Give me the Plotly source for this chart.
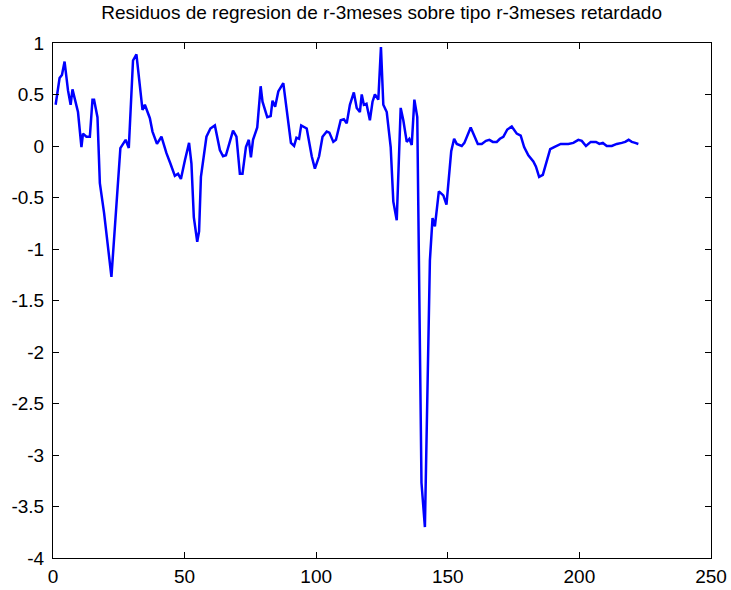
import plotly.graph_objects as go

title_text = "Residuos de regresion de r-3meses sobre tipo r-3meses retardado"

obs_index = [1, 2.5, 3.4, 4.4, 5.7, 6.7, 7.4, 9.5, 10.8, 11.4, 12.7, 14, 15, 15.6, 16.9, 17.8, 19.4, 22.2,
             25.6, 27.6, 28.8, 30.4, 31.7, 34, 34.9, 36.8, 37.8, 39.5, 41.2, 43.1, 44.6, 46.3, 47.5, 48.6,
             50.1, 51.7, 52.6, 53.5, 54.8, 55.5, 56.2, 58.3, 59.8, 61.5, 63.4, 64.6, 65.7, 68.4, 69.7,
             71, 72, 73.3, 74.4, 75.2, 76, 77.6, 78.9, 79.6, 81.4, 82.7, 83.4, 84.4, 85.6, 87.5, 90.4,
             91.6, 92.5, 93.5, 94.3, 96.4, 98.3, 99.5, 101.1, 102.4, 104, 105, 106.5, 107.5, 109.3,
             110.5, 111.6, 112.8, 114.3, 115.4, 116.6, 117.3, 118.1, 119.1, 120.4, 121.4, 122.3, 123.6,
             124.6, 125.5, 126.8, 128.3, 129.3, 130.6, 132.1, 133.1, 134.4, 135.4, 136.3, 137.3, 138.4,
             140, 141.3, 143.2, 144.2, 145.1, 146.6, 148.3, 149.5, 151.3, 152.4, 153.4, 155.3, 156.3,
             158.7, 159.7, 161.4, 162.9, 164.5, 165.8, 167.1, 168.6, 169.8, 171.1, 172.6, 174.3, 176.2,
             177.7, 179, 180.6, 182.5, 183.5, 184.7, 186.1, 187.6, 188.9, 190.4, 191.4, 192.9, 195.8,
             197.7, 199.6, 200.9, 202.5, 204.3, 206.3, 207.6, 208.9, 210.4, 212.3, 214.2, 216.1, 217.4,
             218.7, 219.9, 221.2, 222.4]

residuals = [0.40, 0.66, 0.69, 0.82, 0.54, 0.40, 0.55, 0.33, -0.01, 0.12, 0.09, 0.09, 0.45, 0.45, 0.28,
             -0.36, -0.65, -1.27, -0.02, 0.06, -0.02, 0.83, 0.89, 0.35, 0.40, 0.27, 0.14, 0.02, 0.09,
             -0.07, -0.17, -0.29, -0.27, -0.32, -0.14, 0.03, -0.17, -0.69, -0.93, -0.83, -0.30, 0.09,
             0.17, 0.20, -0.04, -0.10, -0.09, 0.15, 0.09, -0.27, -0.27, -0.01, 0.06, -0.11, 0.06, 0.18,
             0.58, 0.43, 0.28, 0.29, 0.44, 0.38, 0.53, 0.61, 0.03, 0.00, 0.08, 0.07, 0.20, 0.17, -0.10,
             -0.22, -0.10, 0.09, 0.14, 0.13, 0.04, 0.06, 0.25, 0.26, 0.22, 0.40, 0.52, 0.37, 0.33, 0.50,
             0.40, 0.41, 0.25, 0.43, 0.50, 0.45, 0.96, 0.40, 0.33, -0.01, -0.54, -0.72, 0.37, 0.25, 0.04,
             0.07, 0.01, 0.45, 0.28, -3.27, -3.70, -1.11, -0.70, -0.78, -0.44, -0.48, -0.57, -0.05, 0.07,
             0.02, 0.00, 0.03, 0.18, 0.12, 0.02, 0.02, 0.05, 0.06, 0.04, 0.04, 0.07, 0.09, 0.16, 0.19,
             0.12, 0.10, -0.01, -0.09, -0.15, -0.20, -0.30, -0.28, -0.15, -0.03, -0.01, 0.00, 0.02, 0.02,
             0.03, 0.06, 0.05, 0.00, 0.04, 0.04, 0.02, 0.03, 0.00, 0.00, 0.02, 0.03, 0.04, 0.06, 0.04,
             0.03, 0.02]

x_ticks = [0, 50, 100, 150, 200, 250]
y_ticks = [-4, -3.5, -3, -2.5, -2, -1.5, -1, -0.5, 0, 0.5, 1]
y_tick_labels = ["-4", "-3.5", "-3", "-2.5", "-2", "-1.5", "-1", "-0.5", "0", "0.5", "1"]

fig = go.Figure()
fig.add_trace(go.Scatter(x=obs_index, y=residuals, mode="lines",
                         line=dict(color="#0000FF", width=2.5), showlegend=False))

axis_common = dict(showline=True, linecolor="black", linewidth=1, mirror="allticks",
                   ticks="inside", ticklen=6, tickcolor="black", showgrid=False, zeroline=False,
                   automargin=False,
                   tickfont=dict(family="Liberation Sans, Arial, sans-serif", size=19, color="black"))

fig.update_layout(
    width=731, height=590,
    paper_bgcolor="white", plot_bgcolor="white",
    margin=dict(l=53, r=20, t=43, b=32, autoexpand=False),
    title=dict(text=title_text, x=0.522, xanchor="center", y=0.99, yanchor="top",
               font=dict(family="Liberation Sans, Arial, sans-serif", size=19, color="black")),
    xaxis=dict(range=[0, 250], tickvals=x_ticks, ticklabelstandoff=1, **axis_common),
    yaxis=dict(range=[-4, 1], tickvals=y_ticks, ticktext=y_tick_labels, ticklabelstandoff=4, **axis_common),
)

fig.write_html("out.html")
